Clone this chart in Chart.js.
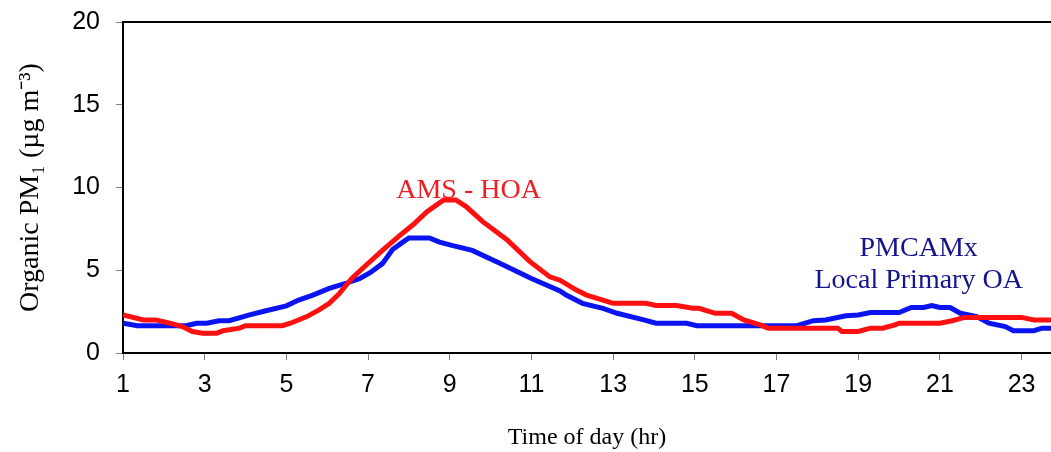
<!DOCTYPE html>
<html>
<head>
<meta charset="utf-8">
<script src="https://cdn.jsdelivr.net/npm/chart.js@4/dist/chart.umd.min.js"></script>
<style>
  html, body { margin: 0; padding: 0; background: #fff; }
  #wrap { width: 1051px; height: 452px; }
</style>
</head>
<body>
<div id="wrap"><canvas id="myChart"></canvas></div>
<script>
// hours and values
var amsHours = [1.0, 1.5, 1.8, 2.15, 2.45, 2.7, 2.95, 3.3, 3.45, 3.85, 4.0, 4.9, 5.1, 5.5, 5.8, 6.05, 6.3, 6.6, 6.95, 7.35,
    7.75, 8.1, 8.45, 8.85, 9.15, 9.4, 9.8, 10.4, 10.95, 11.45, 11.7, 12.1, 12.35, 12.75, 13.0, 13.8, 14.05, 14.55, 14.95, 15.1,
    15.5, 15.9, 16.2, 16.6, 16.8, 18.5, 18.6, 19.0, 19.3, 19.6, 19.9, 20.0, 21.0, 21.3, 21.6, 23.0, 23.3, 23.75];
var amsValues = [2.3, 2.0, 2.0, 1.8, 1.6, 1.3, 1.2, 1.2, 1.35, 1.5, 1.65, 1.65, 1.8, 2.2, 2.6, 3.0, 3.6, 4.5, 5.3, 6.2,
    7.05, 7.75, 8.55, 9.25, 9.25, 8.85, 7.95, 6.85, 5.55, 4.6, 4.4, 3.8, 3.5, 3.2, 3.0, 3.0, 2.87, 2.87, 2.7, 2.7,
    2.4, 2.4, 2.0, 1.7, 1.5, 1.5, 1.3, 1.3, 1.5, 1.5, 1.7, 1.8, 1.8, 1.95, 2.15, 2.15, 2.0, 2.0];

var pmcHours = [1.0, 1.35, 2.55, 2.8, 3.05, 3.35, 3.6, 4.1, 4.5, 5.0, 5.3, 5.65, 6.05, 6.45, 6.8, 7.05, 7.35, 7.6, 7.85, 8.0,
    8.5, 8.75, 9.05, 9.55, 10.2, 11.0, 11.7, 11.85, 12.25, 12.75, 13.1, 13.75, 14.05, 14.8, 15.05, 17.5, 17.9, 18.2, 18.7, 19.0,
    19.3, 20.0, 20.3, 20.6, 20.8, 21.0, 21.25, 21.5, 21.9, 22.2, 22.6, 22.8, 23.3, 23.5, 23.75];
var pmcValues = [1.8, 1.65, 1.65, 1.8, 1.8, 1.95, 1.95, 2.3, 2.55, 2.85, 3.2, 3.5, 3.9, 4.2, 4.5, 4.85, 5.4, 6.25, 6.7, 6.95,
    6.95, 6.7, 6.5, 6.2, 5.45, 4.5, 3.75, 3.5, 3.0, 2.7, 2.4, 2.0, 1.8, 1.8, 1.65, 1.65, 1.95, 2.0, 2.25, 2.3,
    2.45, 2.45, 2.75, 2.75, 2.87, 2.75, 2.75, 2.4, 2.2, 1.8, 1.6, 1.35, 1.35, 1.5, 1.5];

var xTicks = [1, 3, 5, 7, 9, 11, 13, 15, 17, 19, 21, 23];
var yTicks = [0, 5, 10, 15, 20];

function toPoints(xs, ys) {
    var pts = [];
    for (var i = 0; i < xs.length; i++) pts.push({ x: xs[i], y: ys[i] });
    return pts;
}

// text labels next to the curves, placed in data units
var notes = [
    { text: 'AMS - HOA', x: 9.46, y: 9.39, color: '#ee1c24' },
    { text: 'PMCAMx', x: 20.48, y: 5.88, color: '#14148c' },
    { text: 'Local Primary OA', x: 20.48, y: 3.94, color: '#14148c' }
];

var notesPlugin = {
    id: 'notes',
    afterDraw: function (chart) {
        var ctx = chart.ctx;
        var area = chart.chartArea;
        ctx.save();
        // top frame line
        ctx.strokeStyle = '#000';
        ctx.lineWidth = 2;
        ctx.beginPath();
        ctx.moveTo(area.left - 1, area.top);
        ctx.lineTo(area.right, area.top);
        ctx.stroke();

        ctx.font = '28px "Liberation Serif", "Times New Roman", serif';
        ctx.textAlign = 'center';
        ctx.textBaseline = 'alphabetic';
        notes.forEach(function (n) {
            ctx.fillStyle = n.color;
            ctx.fillText(n.text, chart.scales.x.getPixelForValue(n.x), chart.scales.y.getPixelForValue(n.y));
        });
        ctx.restore();
    }
};

var ctx = document.getElementById('myChart').getContext('2d');
var myChart = new Chart(ctx, {
    type: 'line',
    data: {
        datasets: [
            {
                label: 'AMS - HOA',
                data: toPoints(amsHours, amsValues),
                borderColor: '#ff1010',
                borderWidth: 5,
                pointRadius: 0,
                tension: 0
            },
            {
                label: 'PMCAMx Local Primary OA',
                data: toPoints(pmcHours, pmcValues),
                borderColor: '#0a14f0',
                borderWidth: 5,
                pointRadius: 0,
                tension: 0
            }
        ]
    },
    options: {
        responsive: true,
        maintainAspectRatio: false,
        animation: false,
        layout: { padding: { top: 22, right: 0, bottom: 0, left: 0 } },
        plugins: {
            legend: { display: false },
            tooltip: { enabled: false }
        },
        scales: {
            x: {
                type: 'linear',
                min: 1,
                max: 23.72,
                afterBuildTicks: function (axis) {
                    axis.ticks = xTicks.map(function (v) { return { value: v }; });
                },
                afterFit: function (axis) { axis.height = 99; },
                grid: {
                    drawOnChartArea: false,
                    drawTicks: true,
                    tickLength: 7,
                    color: '#808080'
                },
                border: { color: '#000', width: 2 },
                ticks: {
                    padding: 10,
                    maxRotation: 0,
                    color: '#000',
                    font: { family: '"Liberation Sans Narrow", "Liberation Sans", Arial, sans-serif', size: 25 }
                },
                title: {
                    display: true,
                    text: 'Time of day (hr)',
                    color: '#000',
                    padding: { top: 0, bottom: 0 },
                    font: { family: '"Liberation Serif", "Times New Roman", serif', size: 24 }
                }
            },
            y: {
                min: 0,
                max: 20,
                afterBuildTicks: function (axis) {
                    axis.ticks = yTicks.map(function (v) { return { value: v }; });
                },
                afterFit: function (axis) {
                    axis.width = 123;
                    axis.paddingTop = 0;
                    axis.paddingBottom = 0;
                },
                grid: {
                    drawOnChartArea: false,
                    drawTicks: true,
                    tickLength: 7,
                    color: '#808080'
                },
                border: { color: '#000', width: 2 },
                ticks: {
                    padding: 16,
                    color: '#000',
                    font: { family: '"Liberation Sans", Arial, sans-serif', size: 25 }
                },
                title: {
                    display: true,
                    text: 'Organic PM\u2081 (\u00b5g m\u207b\u00b3)',
                    color: '#000',
                    padding: { top: 14, bottom: 0 },
                    font: { family: '"Liberation Serif", "Times New Roman", serif', size: 28 }
                }
            }
        }
    },
    plugins: [notesPlugin]
});
</script>
</body>
</html>
